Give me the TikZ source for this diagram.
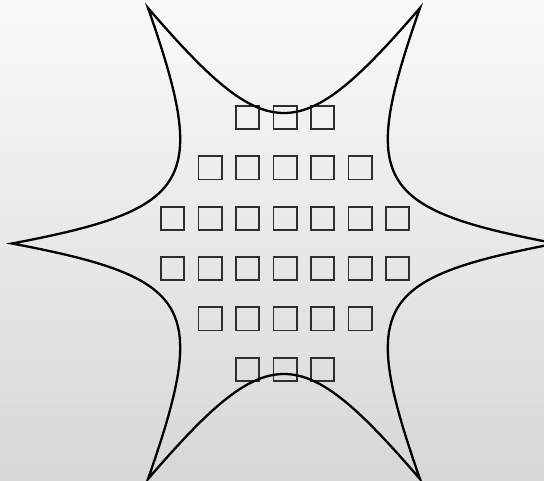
\documentclass[tikz,border=0pt]{standalone}
\definecolor{bgtop}{HTML}{F9F9F9}
\definecolor{bgbot}{HTML}{D6D7D8}
\definecolor{sqgray}{HTML}{2E2E2E}
\begin{document}
\begin{tikzpicture}[x=1pt,y=-1pt,
  sq/.style={shape=rectangle, draw=sqgray, line width=1.8pt, minimum size=23.2pt, inner sep=0pt, outer sep=0pt},
  starline/.style={draw=black, line width=2.3pt}]
\useasboundingbox (0,0) rectangle (544,481);
\clip (0,0) rectangle (544,481);
\shade[top color=bgtop, bottom color=bgbot] (0,0) rectangle (544,481);
% squares
\foreach \r/\n/\y in {1/3/117.8, 2/5/168, 3/7/218.3, 4/7/268.8, 5/5/319, 6/3/369.5}{
  \foreach \k in {1,...,\n}{
    \node[sq] (s\r-\k) at ({285+37.5*(\k-(\n+1)/2)}, \y) {};
  }
}
% six-pointed concave star
\coordinate (t0) at (556,243.5);
\coordinate (t60) at (420,7.94);
\coordinate (t120) at (148,7.94);
\coordinate (t180) at (12,243.5);
\coordinate (t240) at (148,479.06);
\coordinate (t300) at (420,479.06);
\draw[starline]
  (t0) .. controls (374.34,209.01) and (359.04,182.51) .. (t60)
       .. controls (299.30,148.02) and (268.70,148.02) .. (t120)
       .. controls (208.96,182.51) and (193.66,209.01) .. (t180)
       .. controls (193.66,277.99) and (208.96,304.49) .. (t240)
       .. controls (268.70,338.98) and (299.30,338.98) .. (t300)
       .. controls (359.04,304.49) and (374.34,277.99) .. (t0) -- cycle;
\end{tikzpicture}
\end{document}
